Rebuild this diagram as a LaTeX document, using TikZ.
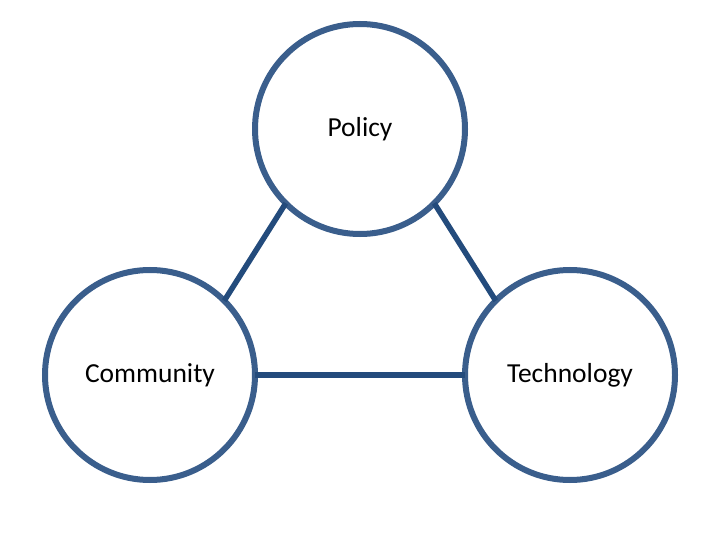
\documentclass[tikz,border=0pt]{standalone}
\usepackage{fontspec}
\setmainfont{Carlito}
\definecolor{ringblue}{HTML}{3A5E8C}
\definecolor{linkblue}{HTML}{234B7C}
\begin{document}
\begin{tikzpicture}[x=1pt,y=-1pt,
  ring/.style={circle,draw=ringblue,line width=6pt,minimum size=210pt,inner sep=0pt,outer sep=0pt,
    font=\fontsize{27.5}{32}\selectfont},
  link/.style={draw=linkblue,line width=5.5pt}]
\useasboundingbox (0,0) rectangle (720,540);
\node[ring] (pol) at (360,129) {\raisebox{-2pt}{Policy}};
\node[ring] (com) at (150,375) {\raisebox{-2pt}{Community}};
\node[ring] (tec) at (570,375) {\raisebox{-2pt}{Technology}};
\draw[link] (pol.south west) -- (com.north east);
\draw[link] (pol.south east) -- (tec.north west);
\draw[link] (com.east) -- (tec.west);
\end{tikzpicture}
\end{document}
